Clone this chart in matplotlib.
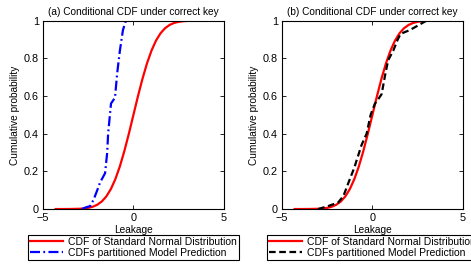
import matplotlib
matplotlib.use("Agg")
import matplotlib.pyplot as plt

plt.rcParams['font.family'] = ['Liberation Sans', 'DejaVu Sans']

# Standard normal CDF reference curve (tabulated)
x_norm = [-4.3, -4.0, -3.5, -3.0, -2.75, -2.5, -2.25, -2.0, -1.75, -1.5, -1.25, -1.0,
          -0.75, -0.5, -0.25, 0.0, 0.25, 0.5, 0.75, 1.0, 1.25, 1.5, 1.75, 2.0,
          2.25, 2.5, 2.75, 3.0, 3.5, 4.0, 4.3]
p_norm = [0.0000085, 0.0000317, 0.000233, 0.00135, 0.00298, 0.00621, 0.01222, 0.02275,
          0.04006, 0.06681, 0.10565, 0.15866, 0.22663, 0.30854, 0.40129, 0.5,
          0.59871, 0.69146, 0.77337, 0.84134, 0.89435, 0.93319, 0.95994, 0.97725,
          0.98778, 0.99379, 0.99702, 0.99865, 0.999767, 0.9999683, 0.9999915]

# (a) partitioned model prediction CDF
x_a = [-2.85, -2.6, -2.4, -2.2, -2.0, -1.85, -1.57, -1.45, -1.4, -1.3, -1.24, -1.1,
       -1.02, -0.9, -0.75, -0.58, -0.45, -0.41, -0.3]
p_a = [0.0, 0.01, 0.015, 0.05, 0.10, 0.14, 0.19, 0.30, 0.40, 0.50, 0.56, 0.58,
       0.59, 0.72, 0.84, 0.95, 0.99, 1.0, 1.0]

# (b) partitioned model prediction CDF
x_b = [-3.0, -2.44, -1.89, -1.6, -1.34, -1.0, -0.6, -0.32, -0.1, 0.14, 0.3, 0.51,
       0.7, 0.87, 1.15, 1.4, 1.56, 2.07, 2.44, 2.99]
p_b = [0.0, 0.016, 0.035, 0.07, 0.136, 0.22, 0.34, 0.40, 0.50, 0.56, 0.58, 0.61,
       0.71, 0.79, 0.84, 0.90, 0.93, 0.95, 0.97, 1.0]

titles = ["(a) Conditional CDF under correct key", "(b) Conditional CDF under correct key"]
labels = ["CDF of Standard Normal Distribution", "CDFs partitioned Model Prediction"]

fig = plt.figure(figsize=(4.71, 2.68), dpi=100)
ax_pos = [[0.0913, 0.220, 0.384, 0.703], [0.5987, 0.220, 0.384, 0.703]]
series = [(x_a, p_a, 'b', (0, (4.5, 1.5, 0.8, 1.5))), (x_b, p_b, 'k', (0, (3.0, 1.6)))]

for i in range(2):
    ax = fig.add_axes(ax_pos[i])
    ax.plot(x_norm, p_norm, color='#ff0000', lw=1.6, label=labels[0])
    xs, ps, c, ls = series[i]
    ax.plot(xs, ps, color=c, lw=1.6, linestyle=ls, label=labels[1])
    ax.set_xlim(-5, 5)
    ax.set_ylim(0, 1)
    ax.set_xticks([-5, 0, 5])
    ax.set_xticklabels(['\u22125', '0', '5'])
    ax.set_yticks([0, 0.2, 0.4, 0.6, 0.8, 1])
    ax.set_yticklabels(['0', '0.2', '0.4', '0.6', '0.8', '1'])
    ax.tick_params(direction='in', top=True, right=True, labelsize=7.8, length=3,
                   width=0.6)
    ax.tick_params(axis='x', pad=3)
    ax.tick_params(axis='y', pad=3)
    for s in ax.spines.values():
        s.set_linewidth(0.8)
    ax.set_title(titles[i], fontsize=7.3, pad=4)
    ax.set_xlabel('Leakage', fontsize=7.3, labelpad=1)
    ax.set_ylabel('Cumulative probability', fontsize=7.3, labelpad=3)
    cx = ax_pos[i][0] + ax_pos[i][2] / 2
    leg = fig.legend(handles=ax.get_lines(), labels=labels, loc='upper center',
                     bbox_to_anchor=(cx, 0.122), fontsize=7.5, frameon=True,
                     fancybox=False, edgecolor='k', framealpha=1,
                     handlelength=3.2, borderpad=0.15, labelspacing=0.12,
                     handletextpad=0.5, borderaxespad=0)
    leg.get_frame().set_linewidth(0.8)

fig.savefig('out.png', dpi=100)
